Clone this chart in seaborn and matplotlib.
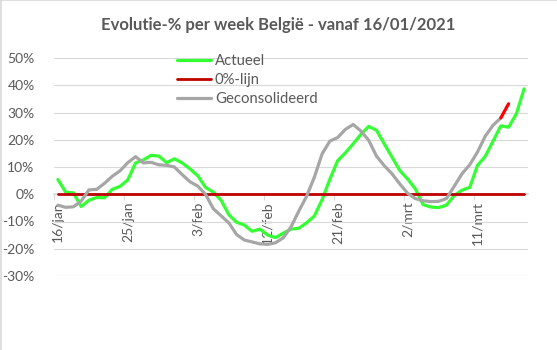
import matplotlib
matplotlib.use("Agg")
import matplotlib.pyplot as plt
from matplotlib.lines import Line2D
import numpy as np
import pandas as pd
import seaborn as sns

# Daily categories 16/01/2021 .. 17/03/2021
days = pd.date_range("2021-01-16", "2021-03-17", freq="D")

# Week-on-week evolution in %
actueel = [5.4, 0.8, 0.5, -4.5, -2.2, -1.2, -1.3, 1.8, 2.9, 5.3,
           11.5, 12.6, 14.3, 14.0, 11.6, 13.0, 11.5, 9.3, 6.8, 2.5,
           0.8, -2.2, -7.5, -10.3, -11.3, -13.6, -12.8, -15.0, -15.9, -14.3,
           -12.8, -12.5, -10.5, -8.0, -2.0, 5.5, 12.3, 15.2, 18.5, 22.0,
           24.9, 23.5, 18.5, 13.6, 8.7, 5.6, 2.0, -3.8, -4.7, -4.9,
           -4.0, -0.5, 1.5, 2.5, 10.6, 13.9, 19.5, 25.1, 24.6, 29.5,
           38.7]
geconsolideerd = [-4.0, -4.8, -4.6, -2.5, 1.6, 1.8, 4.0, 6.6, 8.6, 11.6,
                  13.8, 11.5, 11.7, 10.8, 10.6, 10.0, 7.2, 4.6, 3.0, 0.0,
                  -5.3, -7.9, -10.5, -14.8, -16.8, -17.5, -18.2, -18.4, -17.8, -16.0,
                  -12.0, -6.2, -0.8, 6.2, 14.8, 19.5, 20.8, 23.8, 25.6, 23.2,
                  19.8, 14.0, 10.5, 7.5, 3.8, 0.4, -1.6, -2.4, -2.7, -2.6,
                  -1.6, 2.9, 7.5, 10.8, 15.5, 21.3, 25.3, 28.0]
# most recent, not yet consolidated step
voorlopig = [28.0, 33.2]
nullijn = [0.0] * len(days)

tick_labels = ["16/jan", "25/jan", "3/feb", "12/feb", "21/feb", "2/mrt", "11/mrt"]
tick_every = 9
y_ticks = [-30, -20, -10, 0, 10, 20, 30, 40, 50]

GREEN = "#33ff33"
RED = "#c00000"
GREY = "#a6a6a6"
TXT = "#595959"

sns.set_theme(style="white")
plt.rcParams["font.family"] = ["Lato", "DejaVu Sans"]
plt.rcParams["axes.unicode_minus"] = False

fig = plt.figure(figsize=(5.57, 3.5), dpi=100)
ax = fig.add_axes([54 / 557, 1 - 276 / 350, (528 - 54) / 557, (276 - 58) / 350])

idx = np.arange(len(days))
df = pd.DataFrame({"i": idx, "Actueel": actueel, "0%-lijn": nullijn})
dg = pd.DataFrame({"i": idx[:len(geconsolideerd)], "Geconsolideerd": geconsolideerd})
dv = pd.DataFrame({"i": idx[len(geconsolideerd) - 1:len(geconsolideerd) - 1 + len(voorlopig)],
                   "v": voorlopig})

sns.lineplot(data=df, x="i", y="Actueel", ax=ax, color=GREEN, linewidth=2.3,
             label="Actueel", zorder=3)
sns.lineplot(data=df, x="i", y="0%-lijn", ax=ax, color=RED, linewidth=2.0,
             label="0%-lijn", zorder=4)
sns.lineplot(data=dg, x="i", y="Geconsolideerd", ax=ax, color=GREY, linewidth=2.3,
             label="Geconsolideerd", zorder=5)
sns.lineplot(data=dv, x="i", y="v", ax=ax, color="#ff0000", linewidth=2.3,
             legend=False, zorder=5)

ax.set_xlim(-0.5, len(days) - 0.5)
ax.set_ylim(-30, 50)
ax.set_xlabel("")
ax.set_ylabel("")

# y axis: percentages with light grid
ax.set_yticks(y_ticks)
ax.set_yticklabels([f"{v}%" for v in y_ticks])
ax.yaxis.grid(True, color="#d9d9d9", linewidth=0.8)
ax.xaxis.grid(False)
ax.tick_params(axis="y", length=0, pad=14, labelsize=10, labelcolor=TXT)

# category axis crossing at 0%
for s in ["top", "right", "left"]:
    ax.spines[s].set_visible(False)
ax.spines["bottom"].set_position(("data", 0))
ax.spines["bottom"].set_color("#d9d9d9")
major = idx[::tick_every]
ax.set_xticks(major)
ax.set_xticklabels(tick_labels, rotation=90, va="top", ha="center")
ax.set_xticks(major - 0.5, minor=True)
ax.tick_params(axis="x", which="major", length=0, pad=5, labelsize=10, labelcolor=TXT)
ax.tick_params(axis="x", which="minor", length=4, width=0.8, color="#d9d9d9",
               direction="out", bottom=True)

leg = ax.legend(loc="upper left", bbox_to_anchor=(177 / 557, 1 - 54 / 350),
                bbox_transform=fig.transFigure, frameon=False, fontsize=10.7,
                handlelength=2.3, handletextpad=0.25, labelspacing=0.33,
                borderpad=0, borderaxespad=0)
for t in leg.get_texts():
    t.set_color(TXT)

fig.text(0.5, 1 - 25 / 350, "Evolutie-% per week België - vanaf 16/01/2021",
         ha="center", va="center", fontsize=12, fontweight="bold", color=TXT)

# chart area border
fig.add_artist(Line2D([0.001, 0.001], [0, 1], transform=fig.transFigure,
                      color="#d9d9d9", linewidth=1.2))
fig.add_artist(Line2D([0, 1], [0.999, 0.999], transform=fig.transFigure,
                      color="#d9d9d9", linewidth=1.2))

fig.savefig("out.png", dpi=100, facecolor="white")
